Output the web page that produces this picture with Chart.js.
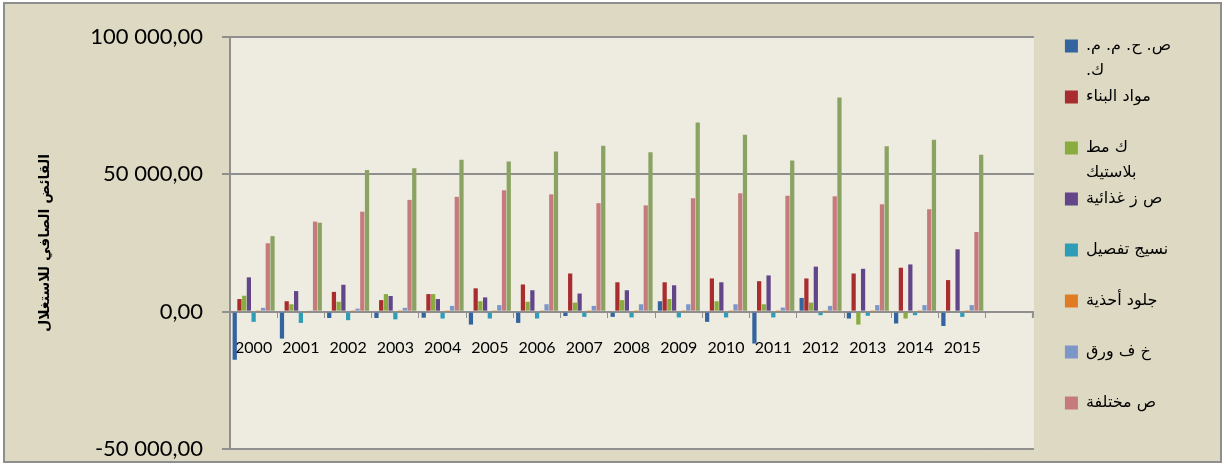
<!DOCTYPE html>
<html>
<head>
<meta charset="utf-8">
<script src="https://cdn.jsdelivr.net/npm/chart.js@4.4.1/dist/chart.umd.min.js"></script>
<style>
  html, body { margin: 0; padding: 0; background: #ffffff; }
  #frame { position: absolute; left: 3px; top: 2px; width: 1215px; height: 457px; background: #DDD9C3; border: 2px solid #8e8e8e; }
  #c { position: absolute; left: 0; top: 0; direction: ltr; }
</style>
</head>
<body>
<div id="frame"></div>
<canvas id="c" width="1225" height="465"></canvas>
<script>
// ---------------- data ----------------
const years = ['2000','2001','2002','2003','2004','2005','2006','2007','2008','2009','2010','2011','2012','2013','2014','2015'];

const seriesNames = ['ص. ح. م. م. ك.', 'مواد البناء', 'ك مط بلاستيك', 'ص ز غذائية', 'نسيج تفصيل', 'جلود أحذية', 'خ ف ورق', 'ص مختلفة', 'المجموع'];
const legendLines = [
  ['ص. ح. م. م.', 'ك.'],
  ['مواد البناء', ''],
  ['ك مط', 'بلاستيك'],
  ['ص ز غذائية', ''],
  ['نسيج تفصيل', ''],
  ['جلود أحذية', ''],
  ['خ ف ورق', ''],
  ['ص مختلفة', '']
];

const sMetal    = [-17500, -9800, -2300, -2300, -2200, -4700, -4100, -1600, -1900, 3800, -3700, -11600, 5000, -2500, -4300, -5200];
const sBuild    = [4600, 3800, 7200, 4200, 6400, 8500, 9900, 13900, 10700, 10700, 12100, 11100, 12100, 13900, 16000, 11500];
const sPlastic  = [5800, 2700, 3600, 6400, 6400, 3800, 3600, 3300, 4200, 4600, 3800, 2700, 3300, -4700, -2500, 0];
const sFood     = [12500, 7500, 9800, 5700, 4600, 5200, 7800, 6600, 7800, 9600, 10700, 13200, 16400, 15600, 17200, 22700];
const sTextile  = [-3700, -4100, -3100, -2800, -2500, -2500, -2500, -1900, -2100, -2100, -2100, -2100, -1300, -1500, -1300, -1900];
const sLeather  = [200, -500, 200, 100, 100, 200, 200, 100, 100, 100, 100, 100, 100, 100, 100, 100];
const sPaper    = [1400, 300, 1100, 1400, 2100, 2400, 2700, 2100, 2700, 2700, 2700, 1500, 2100, 2400, 2400, 2400];
const sMisc     = [24900, 32800, 36400, 40700, 41800, 44200, 42700, 39500, 38700, 41300, 43100, 42200, 42000, 39100, 37300, 29000];
const sTotal    = [27500, 32400, 51600, 52200, 55300, 54700, 58300, 60400, 58000, 68900, 64400, 55000, 78000, 60200, 62600, 57100];

const yTickValues = [-50000, 0, 50000, 100000];
const yTitle = 'القائض الصافي للاستغلال';

// ---------------- style ----------------
const seriesColors = ['#33649f', '#a92d2e', '#8aac3e', '#634689', '#2f9db8', '#e07b22', '#7d96c8', '#c57b7c', '#8ba362'];
const PLOT_BG = '#EEECE1';
const GRID = '#8f8f8f';
const DEPTH = 48;   // extra floor depth of the 3-D plot area to the right

function fmt(v) {
  const s = Math.abs(v).toFixed(0).replace(/\B(?=(\d{3})+(?!\d))/g, ' ');
  return (v < 0 ? '-' : '') + s + ',00';
}

const allSeries = [sMetal, sBuild, sPlastic, sFood, sTextile, sLeather, sPaper, sMisc, sTotal];

const datasets = allSeries.map((d, i) => ({
  label: seriesNames[i],
  data: d,
  backgroundColor: seriesColors[i],
  borderWidth: 0,
  categoryPercentage: 0.9,
  barPercentage: 0.9,
  yAxisID: 'y'
}));

const plotArea = {
  id: 'plotArea',
  beforeDraw(chart) {
    const {ctx, chartArea: a} = chart;
    ctx.save();
    ctx.fillStyle = PLOT_BG;
    ctx.fillRect(a.left, a.top, a.right + DEPTH - a.left, a.bottom - a.top);
    ctx.restore();
  },
  beforeDatasetsDraw(chart) {
    const {ctx, chartArea: a, scales} = chart;
    const y = scales.y;
    ctx.save();
    ctx.strokeStyle = GRID;
    ctx.lineWidth = 2;
    y.ticks.forEach(t => {
      const py = Math.round(y.getPixelForValue(t.value));
      ctx.beginPath();
      ctx.moveTo(a.right - 1, py);
      ctx.lineTo(a.right + DEPTH, py);
      ctx.stroke();
    });
    const pz = Math.round(y.getPixelForValue(0));
    ctx.beginPath();
    ctx.moveTo(a.right + DEPTH - 1, pz);
    ctx.lineTo(a.right + DEPTH - 1, pz + 6);
    ctx.stroke();
    ctx.restore();
  }
};

new Chart(document.getElementById('c'), {
  type: 'bar',
  data: { labels: years, datasets },
  plugins: [plotArea],
  options: {
    responsive: false,
    animation: false,
    devicePixelRatio: 1,
    layout: { padding: { top: 37, left: 10, right: 44, bottom: 16 } },
    plugins: {
      tooltip: { enabled: false },
      title: { display: false },
      legend: {
        position: 'right',
        align: 'start',
        textDirection: 'rtl',
        labels: {
          boxWidth: 13,
          boxHeight: 13,
          padding: 1,
          color: '#000000',
          font: { family: 'DejaVu Sans', size: 16, lineHeight: '25px' },
          filter: (item) => item.datasetIndex < legendLines.length,
          generateLabels(chart) {
            const base = Chart.defaults.plugins.legend.labels.generateLabels(chart);
            return base.map(it => Object.assign(it, { text: legendLines[it.datasetIndex] || [it.text, ''] }));
          }
        }
      }
    },
    scales: {
      x: {
        type: 'category',
        position: { y: 0 },
        offset: true,
        grid: { display: true, drawOnChartArea: false, drawTicks: true, tickLength: 5, color: GRID, lineWidth: 1 },
        border: { display: true, color: GRID, width: 2 },
        ticks: {
          z: -1,
          autoSkip: false, maxRotation: 0, minRotation: 0, padding: 22,
          color: '#000000',
          font: { family: 'Lato', size: 16 }
        }
      },
      y: {
        type: 'linear',
        position: 'left',
        min: -50000,
        max: 100000,
        afterBuildTicks: (s) => { s.ticks = yTickValues.map(v => ({ value: v })); },
        afterFit: (s) => { s.width = 220; s.paddingTop = 0; s.paddingBottom = 0; },
        grid: { color: GRID, lineWidth: 2, tickLength: 8, drawTicks: true },
        border: { display: true, color: GRID, width: 2 },
        ticks: {
          z: -1,
          padding: 19,
          color: '#000000',
          font: { family: 'Lato', size: 22 },
          callback: (v) => fmt(v)
        },
        title: {
          display: true,
          text: yTitle,
          color: '#000000',
          font: { family: 'DejaVu Sans', size: 14, weight: 'bold' },
          padding: { top: 27, bottom: 0 }
        }
      },
      y2: {
        type: 'linear',
        position: 'right',
        display: true,
        grid: { display: false, drawTicks: false },
        border: { display: false },
        ticks: { display: false },
        afterFit: (s) => { s.width = 78; }
      }
    }
  }
});
</script>
</body>
</html>
